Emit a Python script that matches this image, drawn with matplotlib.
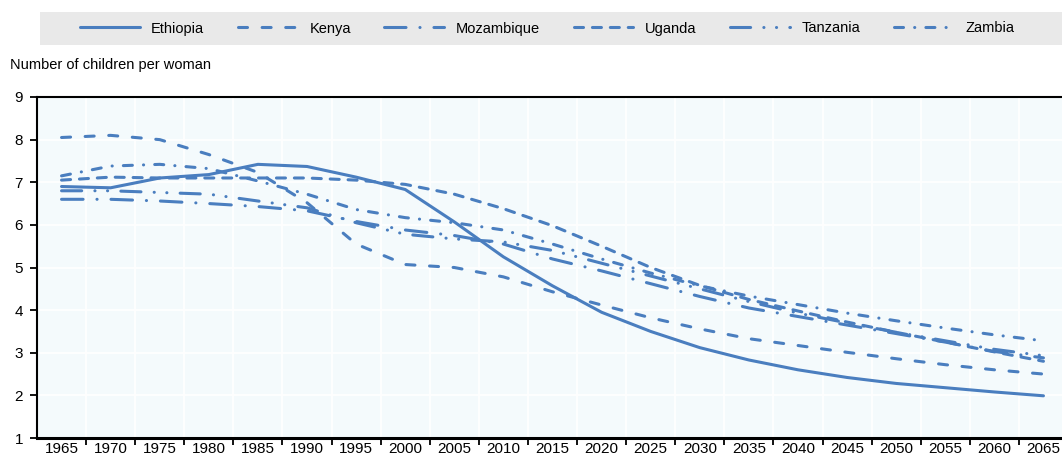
import matplotlib
matplotlib.use("Agg")
import matplotlib.pyplot as plt
from matplotlib.patches import Rectangle

plt.rcParams["font.family"] = ["Liberation Sans", "DejaVu Sans"]
plt.rcParams["lines.scale_dashes"] = False

years = list(range(1965, 2070, 5))

ethiopia = [6.90, 6.87, 7.10, 7.18, 7.42, 7.37, 7.12, 6.83, 6.07, 5.25, 4.57,
            3.95, 3.50, 3.12, 2.83, 2.60, 2.42, 2.28, 2.18, 2.08, 1.99]
kenya = [8.05, 8.10, 8.00, 7.65, 7.23, 6.52, 5.55, 5.07, 5.00, 4.78, 4.43,
         4.12, 3.82, 3.56, 3.33, 3.17, 3.01, 2.86, 2.72, 2.60, 2.50]
mozambique = [6.60, 6.60, 6.56, 6.50, 6.43, 6.33, 6.08, 5.88, 5.75, 5.55, 5.20,
              4.92, 4.62, 4.32, 4.05, 3.85, 3.65, 3.45, 3.25, 3.03, 2.88]
uganda = [7.05, 7.12, 7.10, 7.10, 7.10, 7.10, 7.05, 6.95, 6.72, 6.38, 5.98,
          5.50, 5.00, 4.58, 4.25, 3.98, 3.72, 3.48, 3.25, 3.02, 2.80]
tanzania = [6.80, 6.80, 6.76, 6.72, 6.56, 6.40, 6.05, 5.78, 5.67, 5.60, 5.40,
            5.10, 4.80, 4.50, 4.20, 3.93, 3.70, 3.48, 3.28, 3.08, 2.93]
zambia = [7.15, 7.38, 7.42, 7.32, 7.03, 6.72, 6.36, 6.17, 6.05, 5.88, 5.55,
          5.20, 4.87, 4.57, 4.33, 4.13, 3.93, 3.75, 3.58, 3.42, 3.28]

series = [
    ("Ethiopia", ethiopia, "-"),
    ("Kenya", kenya, (0, (6.5, 10.5))),
    ("Mozambique", mozambique, (0, (15.5, 10, 0.1, 10))),
    ("Uganda", uganda, (0, (6.5, 6.4))),
    ("Tanzania", tanzania, (0, (14.5, 9.5, 0.1, 9, 0.1, 9.5))),
    ("Zambia", zambia, (0, (6.5, 8, 0.1, 8))),
]

blue = "#4a7ebf"
fs = 10.5

fig = plt.figure(figsize=(10.62, 4.57), dpi=100)
ax = fig.add_axes([37 / 1062, 1 - 438 / 457, 1031 / 1062, (438 - 97) / 457])
ax.set_facecolor("#f4fafc")

x = list(range(len(years)))
for name, vals, ls in series:
    ax.plot(x, vals, color=blue, lw=2.2, linestyle=ls, label=name,
            dash_capstyle="round", solid_capstyle="round", zorder=3)

ax.set_xlim(-0.5, len(years) - 0.5)
ax.set_ylim(1, 9)
ax.set_yticks(range(1, 10))

# tick marks between categories, labels at the centres
ax.set_xticks([i + 0.5 for i in range(len(years) - 1)])
ax.set_xticklabels([])
ax.set_xticks(x, minor=True)
ax.set_xticklabels([str(y) for y in years], minor=True)
ax.tick_params(axis="x", which="major", direction="out", length=5, width=1.3, color="black")
ax.tick_params(axis="x", which="minor", length=0, pad=3, labelsize=11)
ax.tick_params(axis="y", direction="out", length=5, width=1.3, pad=5, labelsize=11)

ax.grid(True, which="major", color="white", lw=1.3, zorder=0)
ax.set_axisbelow(True)

for side in ["left", "top"]:
    ax.spines[side].set_linewidth(1.5)
    ax.spines[side].set_color("black")
ax.spines["bottom"].set_linewidth(2.2)
ax.spines["right"].set_visible(False)

fig.text(10 / 1062, 1 - 65 / 457, "Number of children per woman", fontsize=fs,
         ha="left", va="center")

# grey band behind the legend
fig.patches.append(Rectangle((40 / 1062, 1 - 45 / 457), 1030 / 1062, 33 / 457,
                             transform=fig.transFigure, facecolor="#e9e9e9",
                             edgecolor="none", zorder=0))
fig.legend(loc="center", bbox_to_anchor=(547 / 1062, 1 - 28.5 / 457), ncol=6,
           frameon=False, fontsize=fs, handlelength=4.1, handletextpad=0.8,
           columnspacing=2.3)

fig.savefig("out.png", dpi=100)
